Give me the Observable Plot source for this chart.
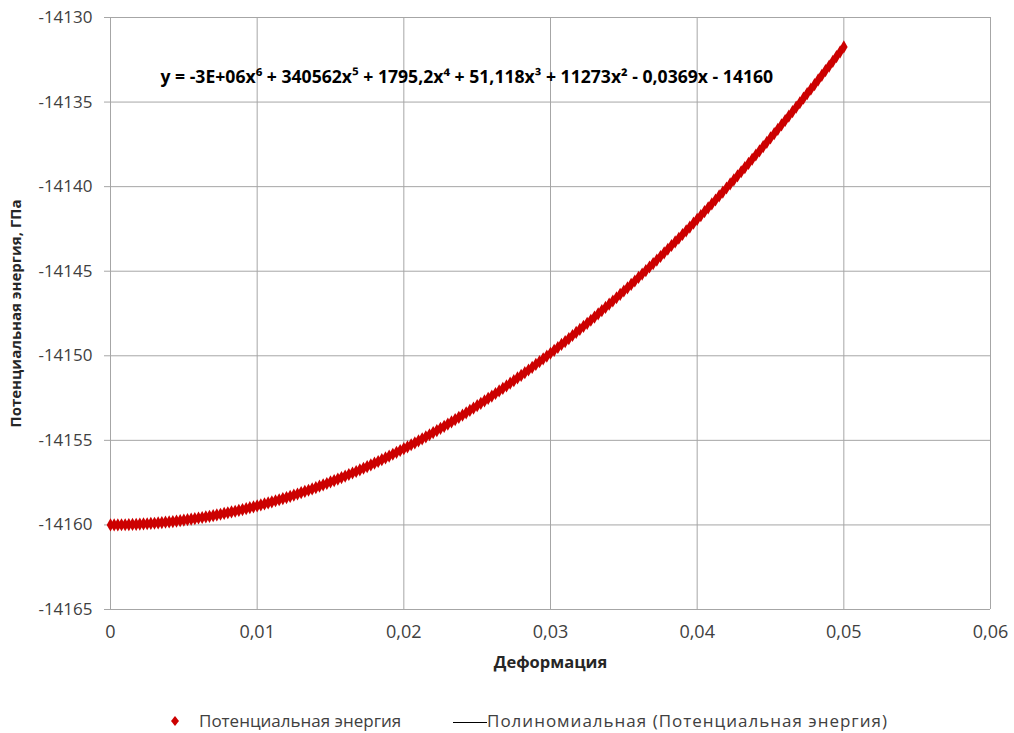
<!DOCTYPE html>
<html><head><meta charset="utf-8">
<script src="https://cdn.jsdelivr.net/npm/d3@7"></script>
<script src="https://cdn.jsdelivr.net/npm/@observablehq/plot@0.6"></script>
<style>
body{margin:0;background:#fff;font-family:"Open Sans",sans-serif;}
#chart{width:1014px;height:680px;}
#chart svg{display:block;}
g[aria-label="y-axis label"] text{font-weight:bold;fill:#262626;font-size:15px;}
g[aria-label="x-axis label"] text{font-weight:bold;fill:#262626;font-size:16.5px;}
#legend{position:relative;width:1014px;height:53px;font-size:17px;color:#404040;}
#legend .it{position:absolute;top:29px;line-height:24px;white-space:nowrap;}
</style></head><body>
<div id="chart"></div>
<div id="legend">
  <div class="it" style="left:170px;"><svg width="10" height="24" style="vertical-align:top"><polygon points="5,7 9,12 5,17 1,12" fill="#cc0000"/></svg></div>
  <div class="it" style="left:199px;" id="lg1"></div>
  <div class="it" style="left:453px;"><span style="display:inline-block;width:34px;border-top:1px solid #000;vertical-align:middle;"></span></div>
  <div class="it" style="left:487px;letter-spacing:1px;" id="lg2"></div>
</div>
<script>
const seriesName = "Потенциальная энергия";
const trendName = "Полиномиальная (Потенциальная энергия)";
const xLabel = "Деформация";
const yLabel = "Потенциальная энергия, ГПа";
const equation = "y = -3E+06x⁶ + 340562x⁵ + 1795,2x⁴ + 51,118x³ + 11273x² - 0,0369x - 14160";
const xTicks = [0, 0.01, 0.02, 0.03, 0.04, 0.05, 0.06];
const yTicks = [-14165, -14160, -14155, -14150, -14145, -14140, -14135, -14130];

const strain = [
0,0.00025,0.0005,0.00075,0.001,0.00125,0.0015,0.00175,0.002,0.00225,
0.0025,0.00275,0.003,0.00325,0.0035,0.00375,0.004,0.00425,0.0045,0.00475,
0.005,0.00525,0.0055,0.00575,0.006,0.00625,0.0065,0.00675,0.007,0.00725,
0.0075,0.00775,0.008,0.00825,0.0085,0.00875,0.009,0.00925,0.0095,0.00975,
0.01,0.01025,0.0105,0.01075,0.011,0.01125,0.0115,0.01175,0.012,0.01225,
0.0125,0.01275,0.013,0.01325,0.0135,0.01375,0.014,0.01425,0.0145,0.01475,
0.015,0.01525,0.0155,0.01575,0.016,0.01625,0.0165,0.01675,0.017,0.01725,
0.0175,0.01775,0.018,0.01825,0.0185,0.01875,0.019,0.01925,0.0195,0.01975,
0.02,0.02025,0.0205,0.02075,0.021,0.02125,0.0215,0.02175,0.022,0.02225,
0.0225,0.02275,0.023,0.02325,0.0235,0.02375,0.024,0.02425,0.0245,0.02475,
0.025,0.02525,0.0255,0.02575,0.026,0.02625,0.0265,0.02675,0.027,0.02725,
0.0275,0.02775,0.028,0.02825,0.0285,0.02875,0.029,0.02925,0.0295,0.02975,
0.03,0.03025,0.0305,0.03075,0.031,0.03125,0.0315,0.03175,0.032,0.03225,
0.0325,0.03275,0.033,0.03325,0.0335,0.03375,0.034,0.03425,0.0345,0.03475,
0.035,0.03525,0.0355,0.03575,0.036,0.03625,0.0365,0.03675,0.037,0.03725,
0.0375,0.03775,0.038,0.03825,0.0385,0.03875,0.039,0.03925,0.0395,0.03975,
0.04,0.04025,0.0405,0.04075,0.041,0.04125,0.0415,0.04175,0.042,0.04225,
0.0425,0.04275,0.043,0.04325,0.0435,0.04375,0.044,0.04425,0.0445,0.04475,
0.045,0.04525,0.0455,0.04575,0.046,0.04625,0.0465,0.04675,0.047,0.04725,
0.0475,0.04775,0.048,0.04825,0.0485,0.04875,0.049,0.04925,0.0495,0.04975,
0.05];

const energy = [
-14160.00,-14160.00,-14160.00,-14159.99,-14159.99,-14159.98,-14159.97,-14159.97,-14159.95,-14159.94,
-14159.93,-14159.91,-14159.90,-14159.88,-14159.86,-14159.84,-14159.82,-14159.80,-14159.77,-14159.75,
-14159.72,-14159.69,-14159.66,-14159.63,-14159.59,-14159.56,-14159.52,-14159.49,-14159.45,-14159.41,
-14159.37,-14159.32,-14159.28,-14159.23,-14159.19,-14159.14,-14159.09,-14159.04,-14158.98,-14158.93,
-14158.87,-14158.82,-14158.76,-14158.70,-14158.64,-14158.57,-14158.51,-14158.44,-14158.38,-14158.31,
-14158.24,-14158.17,-14158.09,-14158.02,-14157.95,-14157.87,-14157.79,-14157.71,-14157.63,-14157.55,
-14157.46,-14157.38,-14157.29,-14157.20,-14157.11,-14157.02,-14156.93,-14156.84,-14156.74,-14156.65,
-14156.55,-14156.45,-14156.35,-14156.25,-14156.14,-14156.04,-14155.93,-14155.82,-14155.71,-14155.60,
-14155.49,-14155.38,-14155.26,-14155.15,-14155.03,-14154.91,-14154.79,-14154.67,-14154.54,-14154.42,
-14154.29,-14154.17,-14154.04,-14153.91,-14153.77,-14153.64,-14153.51,-14153.37,-14153.23,-14153.09,
-14152.95,-14152.81,-14152.67,-14152.52,-14152.38,-14152.23,-14152.08,-14151.93,-14151.78,-14151.62,
-14151.47,-14151.31,-14151.16,-14151.00,-14150.84,-14150.68,-14150.51,-14150.35,-14150.18,-14150.02,
-14149.85,-14149.68,-14149.51,-14149.33,-14149.16,-14148.98,-14148.80,-14148.62,-14148.44,-14148.26,
-14148.08,-14147.90,-14147.71,-14147.52,-14147.33,-14147.14,-14146.95,-14146.76,-14146.57,-14146.37,
-14146.17,-14145.98,-14145.78,-14145.58,-14145.37,-14145.17,-14144.96,-14144.75,-14144.55,-14144.34,
-14144.13,-14143.91,-14143.70,-14143.48,-14143.27,-14143.05,-14142.83,-14142.61,-14142.39,-14142.16,
-14141.93,-14141.71,-14141.48,-14141.25,-14141.02,-14140.79,-14140.55,-14140.32,-14140.08,-14139.84,
-14139.60,-14139.36,-14139.12,-14138.87,-14138.63,-14138.38,-14138.13,-14137.88,-14137.63,-14137.38,
-14137.12,-14136.87,-14136.61,-14136.35,-14136.09,-14135.83,-14135.57,-14135.30,-14135.04,-14134.77,
-14134.50,-14134.24,-14133.97,-14133.69,-14133.42,-14133.14,-14132.87,-14132.59,-14132.31,-14132.03,
-14131.74];

const data = strain.map((s, i) => ({strain: s, energy: energy[i]}));
const fmtX = d => d === 0 ? "0" : d.toFixed(2).replace(".", ",");
const grid = "#a6a6a6";

const plot = Plot.plot({
  width: 1014, height: 680,
  marginTop: 17, marginLeft: 110, marginRight: 24, marginBottom: 71,
  style: {fontFamily: "'Open Sans', sans-serif", fontSize: "17px", color: "#404040", background: "white"},
  x: {domain: [0, 0.06]},
  y: {domain: [-14165, -14130]},
  marks: [
    Plot.gridX(xTicks, {stroke: grid, strokeOpacity: 1}),
    Plot.gridY(yTicks, {stroke: grid, strokeOpacity: 1}),
    Plot.axisY(yTicks, {tickFormat: d => String(d), tickSize: 6, tickPadding: 12, stroke: grid,
      label: yLabel, labelAnchor: "center", labelOffset: 100, labelArrow: "none"}),
    Plot.axisX(xTicks, {tickFormat: fmtX, tickSize: 0, tickPadding: 16, fontSize: 18,
      label: xLabel, labelAnchor: "center", labelOffset: 58, labelArrow: "none"}),
    Plot.line(data, {x: "strain", y: "energy", stroke: "black", strokeWidth: 1, curve: "natural"}),
    Plot.dot(data, {x: "strain", y: "energy", symbol: "diamond", r: 4, fill: "#cc0000", stroke: "none"}),
    Plot.text([equation], {frameAnchor: "top-left", dx: 50, dy: 60, lineAnchor: "middle", textAnchor: "start",
      fontFamily: "'Liberation Sans Narrow', 'Open Sans', sans-serif", fontWeight: "bold", fontSize: 17.6, fill: "#000"})
  ]
});
document.getElementById("chart").appendChild(plot);
document.getElementById("lg1").textContent = seriesName;
document.getElementById("lg2").textContent = trendName;
</script>
</body></html>
